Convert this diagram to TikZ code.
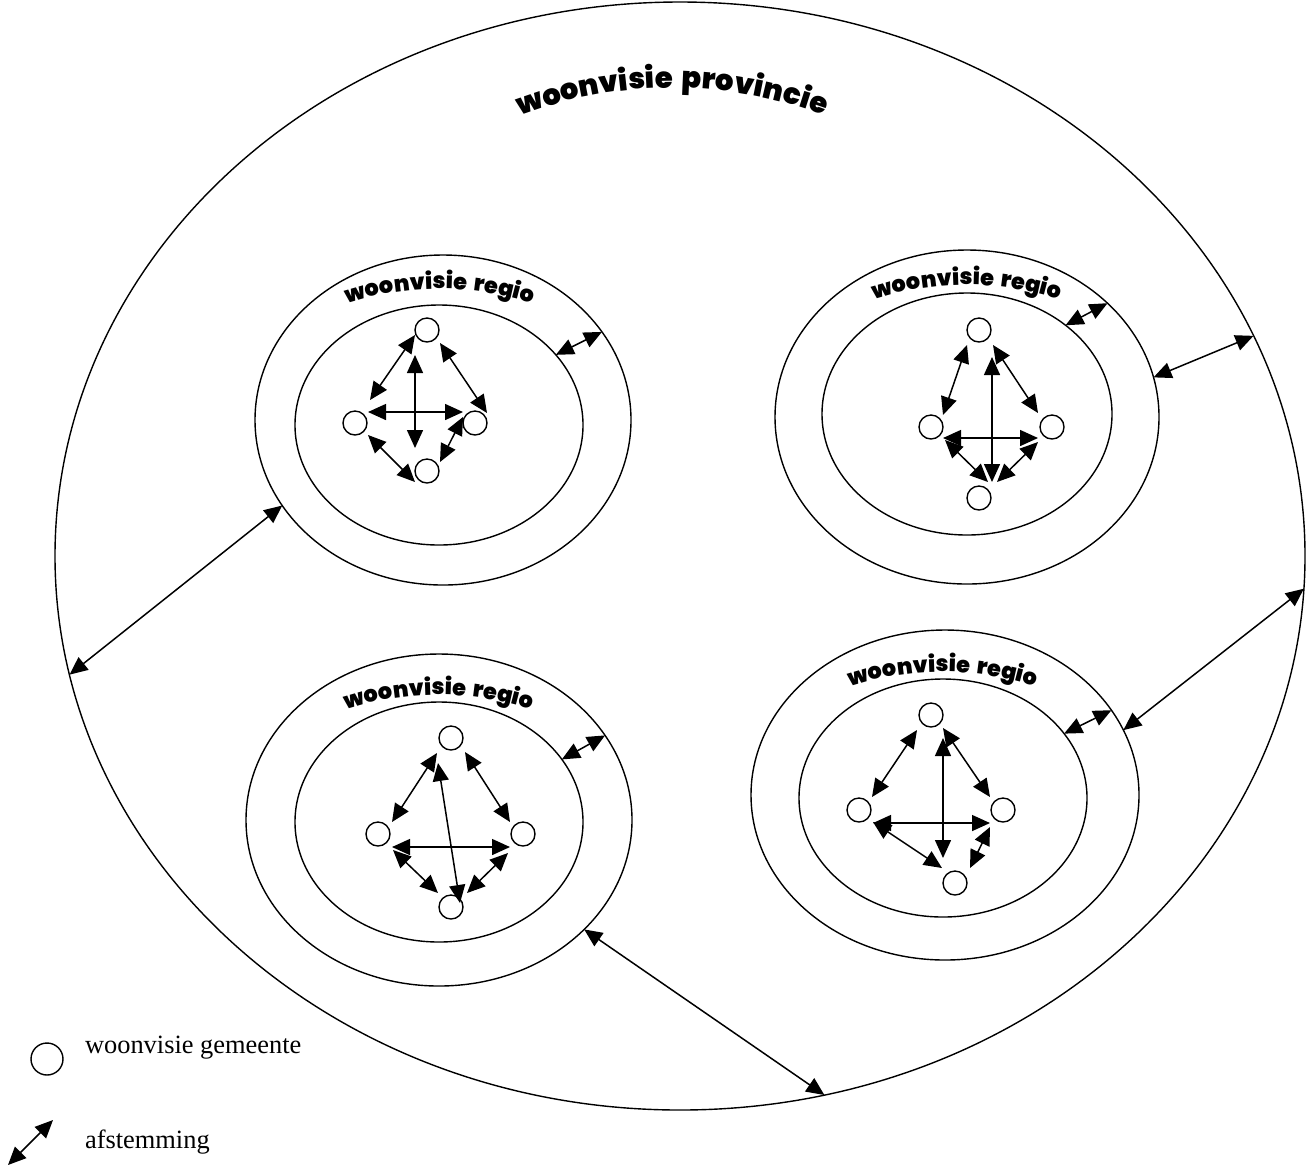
\documentclass[tikz,border=0pt]{standalone}
\usepackage{fontspec}
\setmainfont{Liberation Serif}
\newfontfamily\heavyfont[WordSpace=1.7]{Poppins Black}
\usetikzlibrary{arrows.meta,shapes.geometric,decorations.text,calc}
\tikzset{
  gem/.style={circle,draw,line width=0.7pt,minimum size=12pt,inner sep=0pt,outer sep=0pt},
  ell/.style={ellipse,draw,line width=0.7pt,inner sep=0pt,outer sep=0pt},
  arr/.style={<->,>={Triangle[length=9pt,width=8pt]},line width=0.75pt},
}
\newcommand{\regiotext}[3]{%
  \path[decorate,decoration={text along path,text align=center,
    text={|\heavyfont\fontsize{11.2pt}{13pt}\selectfont|woonvisie regio}}]
    ($(#1,#2)+(200:#3)$) arc[start angle=200,end angle=340,radius=#3];}
\begin{document}
\begin{tikzpicture}[x=0.5pt,y=-0.5pt]
\useasboundingbox (0,0) rectangle (1310,1169);
% province
\node[ell,minimum width=625pt,minimum height=554pt] (P) at (680,556) {};
\path[decorate,decoration={text along path,text align=center,
    text={|\heavyfont\fontsize{14.5pt}{17pt}\selectfont|woonvisie provincie}}]
    ($(672,518)+(200:430)$) arc[start angle=200,end angle=340,radius=430];
% regions
\node[ell,minimum width=188pt,minimum height=165pt] (O1) at (443,420) {};
\node[ell,minimum width=144pt,minimum height=120pt] (I1) at (439,425) {};
\node[ell,minimum width=192pt,minimum height=167pt] (O2) at (967,417) {};
\node[ell,minimum width=145pt,minimum height=121pt] (I2) at (967,414) {};
\node[ell,minimum width=193pt,minimum height=166pt] (O3) at (439,820) {};
\node[ell,minimum width=144pt,minimum height=120pt] (I3) at (439,822) {};
\node[ell,minimum width=194pt,minimum height=165pt] (O4) at (945,795) {};
\node[ell,minimum width=144pt,minimum height=119pt] (I4) at (943,798) {};
\regiotext{440}{589}{300}
\regiotext{967}{585}{300}
\regiotext{439}{995}{300}
\regiotext{943}{972}{300}
% municipalities region 1
\node[gem] (A1) at (427,330) {};
\node[gem] (B1) at (355,423) {};
\node[gem] (C1) at (475,423) {};
\node[gem] (D1) at (427,471) {};
\draw[arr] ([shift={(-12,5)}]A1.center) -- ([shift={(15,-23)}]B1.center);
\draw[arr] ([shift={(-12,25)}]A1.center) -- ([shift={(-12,-23)}]D1.center);
\draw[arr] ([shift={(13,-11)}]B1.center) -- ([shift={(-12,-11)}]C1.center);
\draw[arr] ([shift={(13,13)}]A1.center) -- ([shift={(12,-10)}]C1.center);
\draw[arr] ([shift={(13,12)}]B1.center) -- ([shift={(-12,11)}]D1.center);
\draw[arr] ([shift={(-12,-6)}]C1.center) -- ([shift={(13,-9)}]D1.center);
% region 2
\node[gem] (A2) at (979,330) {};
\node[gem] (B2) at (931,427) {};
\node[gem] (C2) at (1052,427) {};
\node[gem] (D2) at (979,498) {};
\draw[arr] ([shift={(-12,15)}]A2.center) -- ([shift={(12,-12)}]B2.center);
\draw[arr] ([shift={(13,27)}]A2.center) -- ([shift={(13,-16)}]D2.center);
\draw[arr] ([shift={(14,15)}]A2.center) -- ([shift={(-14,-14)}]C2.center);
\draw[arr] ([shift={(12,11)}]B2.center) -- ([shift={(-14,11)}]C2.center);
\draw[arr] ([shift={(14,13)}]B2.center) -- ([shift={(9,-16)}]D2.center);
\draw[arr] ([shift={(-14,15)}]C2.center) -- ([shift={(18,-16)}]D2.center);
% region 3
\node[gem] (A3) at (451,738) {};
\node[gem] (B3) at (378,834) {};
\node[gem] (C3) at (523,834) {};
\node[gem] (D3) at (451,907) {};
\draw[arr] ([shift={(-14,15)}]A3.center) -- ([shift={(14,-12)}]B3.center);
\draw[arr] ([shift={(-13,25)}]A3.center) -- ([shift={(9,-4)}]D3.center);
\draw[arr] ([shift={(14,14)}]A3.center) -- ([shift={(-13,-12)}]C3.center);
\draw[arr] ([shift={(14,13)}]B3.center) -- ([shift={(-13,13)}]C3.center);
\draw[arr] ([shift={(15,16)}]B3.center) -- ([shift={(-13,-14)}]D3.center);
\draw[arr] ([shift={(-15,19)}]C3.center) -- ([shift={(16,-14)}]D3.center);
% region 4
\node[gem] (A4) at (931,715) {};
\node[gem] (B4) at (859,810) {};
\node[gem] (C4) at (1003,810) {};
\node[gem] (D4) at (955,883) {};
\draw[arr] ([shift={(-14,15)}]A4.center) -- ([shift={(13,-13)}]B4.center);
\draw[arr] ([shift={(12,23)}]A4.center) -- ([shift={(-12,-25)}]D4.center);
\draw[arr] ([shift={(12,13)}]A4.center) -- ([shift={(-13,-13)}]C4.center);
\draw[arr] ([shift={(14,13)}]B4.center) -- ([shift={(-13,13)}]C4.center);
\draw[arr] ([shift={(14,12)}]B4.center) -- ([shift={(-13,-15)}]D4.center);
\draw[arr] ([shift={(-13,17)}]C4.center) -- ([shift={(15,-15)}]D4.center);
% inner-outer region links
\draw[arr] (I1.31) -- (O1.29);
\draw[arr] (I2.42) -- (O2.39);
\draw[arr] (I3.27.5) -- (O3.27);
\draw[arr] (I4.28) -- (O4.27);
% region-province links
\draw[arr] (O1.208) -- (P.191.5);
\draw[arr] (O2.12.3) -- (P.21.9);
\draw[arr] (O4.20.3) -- (P.-3.3);
\draw[arr] (O3.-37) -- (P.-75);
% legend
\node[gem,minimum size=16pt] (L1) at (47,1059) {};
\node[anchor=base west,font=\fontsize{13.2pt}{15pt}\selectfont] (L1t) at (78,1053) {woonvisie gemeente};
\coordinate (La) at (8,1165);
\coordinate (Lb) at (53,1120);
\draw[arr] (La) -- (Lb);
\node[anchor=base west,font=\fontsize{13.2pt}{15pt}\selectfont] (L2t) at (78,1148) {afstemming};
\end{tikzpicture}
\end{document}
